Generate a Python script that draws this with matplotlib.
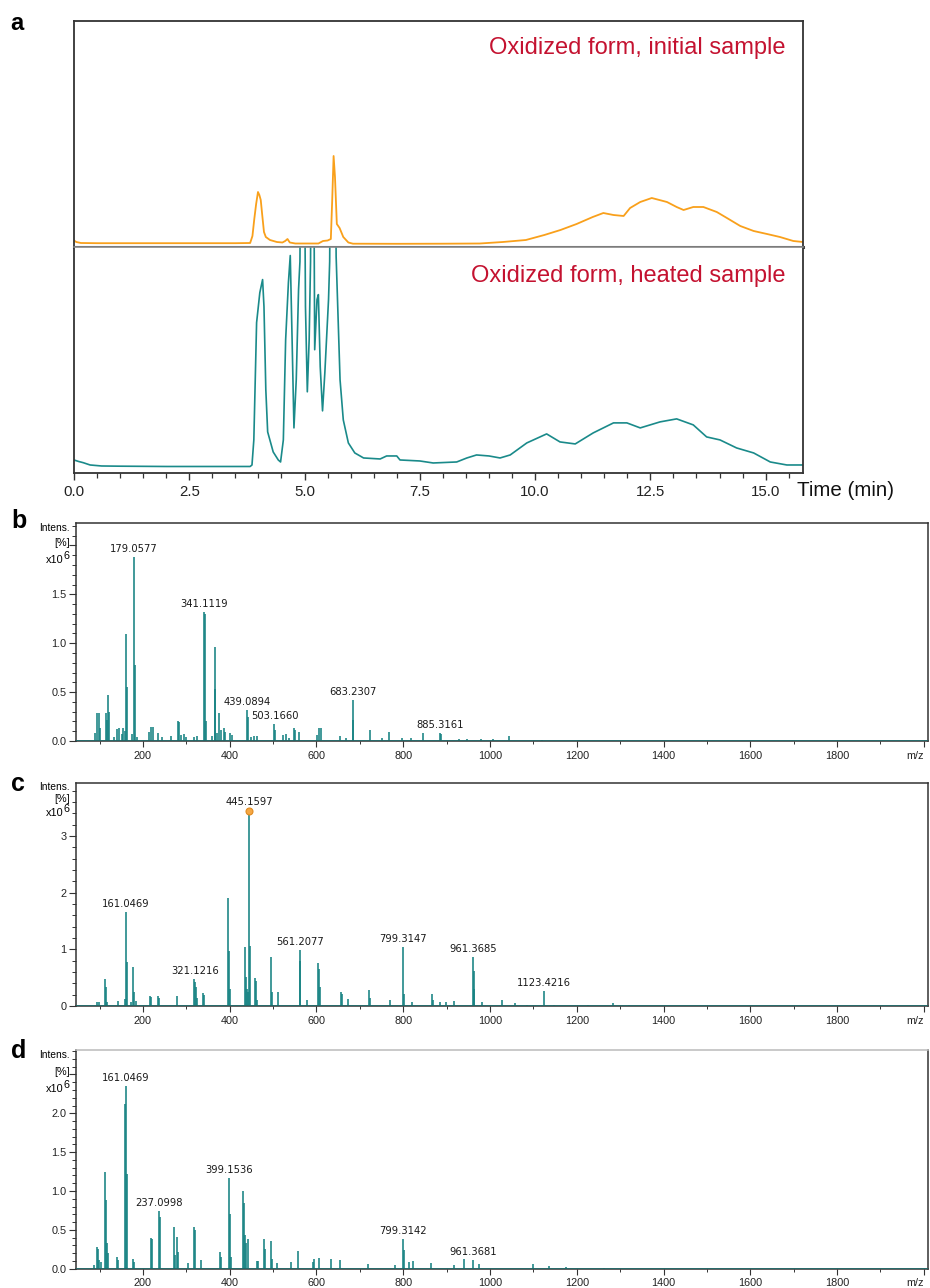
import matplotlib
matplotlib.use('Agg')
import matplotlib.pyplot as plt
from matplotlib.ticker import MultipleLocator, FixedLocator, FixedFormatter
import numpy as np

plt.rcParams['font.family'] = ['Liberation Sans', 'DejaVu Sans']

W, H = 930, 1288

# ---------------- Panel a data (chromatograms) ----------------
time_initial = [0.0, 0.05, 0.15, 0.5, 1.5, 2.5, 3.5, 3.82, 3.87, 3.91, 3.95, 3.99, 4.02, 4.05,
                4.08, 4.12, 4.16, 4.25, 4.4, 4.52, 4.58, 4.63, 4.68, 4.8, 5.3, 5.4, 5.5, 5.57,
                5.6, 5.63, 5.66, 5.7, 5.76, 5.84, 5.95, 6.05, 7.0, 8.0, 8.8, 9.3, 9.8, 10.2,
                10.55, 10.9, 11.25, 11.48, 11.7, 11.92, 12.06, 12.28, 12.53, 12.86, 13.07,
                13.22, 13.43, 13.65, 13.94, 14.16, 14.45, 14.74, 15.03, 15.31, 15.6, 15.81]
intensity_initial = [3.5, 2, 1, 0.8, 0.8, 0.8, 0.8, 1, 8, 25, 40, 52, 49, 44,
                     30, 12, 7, 4, 2, 1.5, 3, 5, 1.5, 0.5, 0.5, 3, 3.5, 5,
                     44, 88, 67, 20, 16, 7, 1.5, 0.3, 0.2, 0.3, 0.5, 2, 4, 9,
                     14, 20, 27, 31, 29, 28, 36, 42, 46, 42, 37,
                     34, 37, 37, 32, 26, 18, 13, 10, 7, 3, 2]

time_heated = [0.0, 0.1, 0.2, 0.35, 0.6, 1.0, 2.0, 3.0, 3.5, 3.82,
               3.86, 3.9, 3.96, 4.03, 4.09, 4.12, 4.16, 4.2, 4.32, 4.43,
               4.48, 4.54, 4.59, 4.65, 4.69, 4.73, 4.77, 4.82, 4.87, 4.90,
               4.96, 5.02, 5.06, 5.10, 5.13, 5.17, 5.22, 5.27, 5.30, 5.34,
               5.39, 5.44, 5.52, 5.545, 5.615, 5.685, 5.77, 5.84, 5.95, 6.09,
               6.28, 6.64, 6.78, 7.0, 7.07, 7.5, 7.79, 8.3, 8.52, 8.73,
               9.0, 9.24, 9.46, 9.82, 10.25, 10.54, 10.87, 11.26, 11.7, 11.99,
               12.28, 12.71, 13.07, 13.43, 13.72, 14.01, 14.37, 14.74, 15.1, 15.46, 15.81]
intensity_heated = [7, 5.5, 4.3, 2, 1, 0.8, 0.5, 0.5, 0.5, 0.5,
                    2, 27, 144, 174, 187, 160, 77, 35, 15, 7,
                    5, 27, 127, 184, 211, 127, 39, 87, 177, 205,
                    600, 160, 75, 127, 205, 600, 117, 167, 172, 100,
                    56, 94, 167, 205, 700, 210, 87, 47, 24, 14,
                    9, 8, 11, 11, 7, 6, 4, 5, 9, 12,
                    11, 9, 12, 24, 33, 25, 23, 34, 44, 44,
                    39, 45, 48, 42, 30, 27, 19, 14, 5, 2, 2]

time_ticks = [0.0, 2.5, 5.0, 7.5, 10.0, 12.5, 15.0]
time_tick_labels = ['0.0', '2.5', '5.0', '7.5', '10.0', '12.5', '15.0']

# ---------------- Panel b data (mass spectrum) ----------------
mz_b = [90, 95, 98, 101, 114, 116, 120, 122, 134, 141, 145, 151, 155, 158, 162, 164, 174, 179.06,
        181, 187, 214, 218, 222, 234, 245, 264, 280, 282, 287, 295, 299, 318, 324, 341.11, 343,
        345, 358, 365, 367, 370, 376, 380, 386, 389, 400, 406, 439.09, 441, 449, 455, 463, 503.17,
        505, 522, 529, 537, 549, 551, 559, 601, 606, 610, 655, 668, 683.23, 685, 723, 750, 768,
        798, 818, 845, 885.32, 887, 929, 948, 979, 1006, 1044, 1121, 1206]
int_b = [0.086, 0.284, 0.284, 0.13, 0.284, 0.21, 0.473, 0.30, 0.045, 0.123, 0.13, 0.07, 0.13, 0.10,
         1.089, 0.55, 0.07, 1.877, 0.78, 0.04, 0.096, 0.14, 0.14, 0.086, 0.04, 0.055, 0.20, 0.19,
         0.06, 0.07, 0.045, 0.045, 0.05, 1.318, 1.30, 0.20, 0.055, 0.962, 0.53, 0.086, 0.284, 0.11,
         0.13, 0.096, 0.08, 0.06, 0.318, 0.243, 0.045, 0.05, 0.05, 0.17, 0.11, 0.06, 0.07, 0.035,
         0.13, 0.11, 0.096, 0.06, 0.13, 0.13, 0.055, 0.035, 0.421, 0.216, 0.11, 0.027, 0.096,
         0.035, 0.03, 0.086, 0.086, 0.07, 0.02, 0.017, 0.017, 0.02, 0.05, 0.01, 0.01]
labels_b = ['179.0577', '341.1119', '439.0894', '503.1660', '683.2307', '885.3161']

# ---------------- Panel c data ----------------
mz_c = [93, 99, 112.5, 115, 118, 142, 158.6, 161.05, 162.5, 172, 178, 180, 183, 216, 218.5, 234,
        236, 279, 317, 319.5, 321.12, 323.5, 337.6, 340, 396, 398.3, 400.6, 434.5, 436.8, 439.1,
        441.4, 445.16, 447, 458.3, 460.6, 463.6, 494.4, 496.7, 512, 561.21, 562.5, 577.4, 604.3,
        606.6, 608.9, 656.5, 659.6, 673.4, 721, 723.4, 769.5, 799.31, 801.8, 819.4, 867, 869.4,
        884.7, 897.8, 917, 961.37, 962.5, 964, 980.8, 1027, 1057.6, 1085, 1123.42, 1147, 1226,
        1282.8, 1320]
int_c = [0.077, 0.077, 0.477, 0.33, 0.065, 0.094, 0.12, 1.656, 0.77, 0.065, 0.684, 0.24, 0.094,
         0.18, 0.165, 0.18, 0.15, 0.18, 0.477, 0.42, 0.33, 0.15, 0.23, 0.2, 1.903, 0.978, 0.3,
         1.05, 0.507, 0.3, 0.24, 3.45, 1.067, 0.495, 0.45, 0.106, 0.872, 0.24, 0.24, 0.99, 0.79,
         0.106, 0.754, 0.654, 0.33, 0.24, 0.22, 0.12, 0.283, 0.135, 0.106, 1.037, 0.21, 0.077,
         0.22, 0.106, 0.077, 0.077, 0.094, 0.86, 0.625, 0.3, 0.077, 0.106, 0.05, 0.02, 0.27,
         0.02, 0.02, 0.05, 0.01]
labels_c = ['161.0469', '321.1216', '445.1597', '561.2077', '799.3147', '961.3685', '1123.4216']
marked_c = 445.1597

# ---------------- Panel d data ----------------
mz_d = [88, 93.3, 95.6, 99.4, 102.5, 111.7, 114, 117.1, 119.4, 139.4, 141.7, 158, 161.05, 163.5,
        176.3, 179.4, 217.7, 220, 237.1, 239.3, 271.6, 273.9, 279.2, 281.5, 304.6, 317.6, 320,
        333.8, 377.6, 379.9, 399.15, 401, 403, 429.9, 432.2, 434.5, 436.8, 442.9, 462.1, 466,
        478.3, 480.6, 494.4, 496.7, 509.8, 540.5, 556.6, 592.7, 595, 605.8, 633.5, 654.2, 719.5,
        781, 799.31, 801, 814, 823.3, 864, 917, 940, 961.37, 975.4, 1100, 1136.8, 1175.2, 1262.8]
int_d = [0.047, 0.275, 0.26, 0.11, 0.09, 1.249, 0.884, 0.326, 0.2, 0.155, 0.11, 2.12, 2.35, 1.22,
         0.12, 0.09, 0.39, 0.378, 0.742, 0.67, 0.54, 0.176, 0.41, 0.22, 0.07, 0.54, 0.5, 0.11,
         0.22, 0.155, 1.17, 0.71, 0.155, 1.0, 0.85, 0.43, 0.33, 0.38, 0.1, 0.1, 0.38, 0.26,
         0.356, 0.13, 0.07, 0.09, 0.227, 0.09, 0.12, 0.14, 0.12, 0.11, 0.056, 0.047, 0.38, 0.24,
         0.09, 0.1, 0.07, 0.047, 0.12, 0.11, 0.056, 0.056, 0.03, 0.02, 0.01]
labels_d = ['161.0469', '237.0998', '399.1536', '799.3142', '961.3681']

mz_ticks = [200, 400, 600, 800, 1000, 1200, 1400, 1600, 1800, 2000]
mz_tick_labels = ['200', '400', '600', '800', '1000', '1200', '1400', '1600', '1800', 'm/z']

# ---------------- styling ----------------
ORANGE = '#F9A01B'
TEAL = '#1A8A8A'
BAR = '#168282'
RED = '#C41230'
SPINE = '#333333'


def fx(px):
    return px / W


def fy(py):
    return 1 - py / H


def add_axes_px(left, top, right, bottom):
    return fig.add_axes([fx(left), fy(bottom), (right - left) / W, (bottom - top) / H])


fig = plt.figure(figsize=(W / 100, H / 100), dpi=100)

# ---------- Panel a ----------
XMAX_T = 15.81
ax1 = add_axes_px(74, 21, 803, 246.5)
ax1.plot(time_initial, intensity_initial, color=ORANGE, lw=1.3)
ax1.set_xlim(0, XMAX_T)
ax1.set_ylim(-2.5, 223)
ax1.set_xticks([])
ax1.set_yticks([])
for s in ['top', 'left', 'right']:
    ax1.spines[s].set_color(SPINE)
    ax1.spines[s].set_linewidth(1.3)
ax1.spines['bottom'].set_color('#444444')
ax1.spines['bottom'].set_linewidth(2.2)
ax1.text(0.976, 0.88, 'Oxidized form, initial sample', transform=ax1.transAxes,
         ha='right', va='center', color=RED, fontsize=17)

ax2 = add_axes_px(74, 246.5, 803, 472.5)
ax2.plot(time_heated, intensity_heated, color=TEAL, lw=1.2)
ax2.set_xlim(0, XMAX_T)
ax2.set_ylim(-5.5, 220)
ax2.set_yticks([])
ax2.xaxis.set_major_locator(FixedLocator(time_ticks))
ax2.xaxis.set_major_formatter(FixedFormatter(time_tick_labels))
ax2.xaxis.set_minor_locator(MultipleLocator(0.5))
ax2.tick_params(axis='x', which='major', direction='out', length=5, width=1.0,
                color=SPINE, labelsize=10.8, pad=4, labelcolor='#222222')
ax2.tick_params(axis='x', which='minor', direction='out', length=3.5, width=0.9, color=SPINE)
for s in ['bottom', 'left', 'right']:
    ax2.spines[s].set_color(SPINE)
    ax2.spines[s].set_linewidth(1.3)
ax2.spines['top'].set_color('#888888')
ax2.spines['top'].set_linewidth(1.2)
ax2.text(0.976, 0.87, 'Oxidized form, heated sample', transform=ax2.transAxes,
         ha='right', va='center', color=RED, fontsize=17)

fig.text(fx(797), fy(490), 'Time (min)', ha='left', va='center', fontsize=14.8, color='#111111')
fig.text(fx(10), fy(30), 'a', ha='left', va='baseline', fontsize=17, fontweight='bold')

# ---------- MS panels ----------
XLIM_MZ = (45.6, 2009.7)


def ms_panel(top, bottom, mz, inten, labels, ymax, major, major_labels, minor_step,
             letter, letter_y, lab_y, top_spine_color=SPINE, marked=None):
    ax = add_axes_px(76, top, 928, bottom)
    ax.vlines(mz, 0, inten, color=BAR, lw=1.15)
    ax.axhline(0, color='#1E6E6E', lw=1.2, zorder=3)
    ax.set_xlim(*XLIM_MZ)
    ax.set_ylim(0, ymax)
    ax.xaxis.set_major_locator(FixedLocator(mz_ticks))
    ax.xaxis.set_major_formatter(FixedFormatter(mz_tick_labels))
    ax.xaxis.set_minor_locator(MultipleLocator(100))
    ax.yaxis.set_major_locator(FixedLocator(major))
    ax.yaxis.set_major_formatter(FixedFormatter(major_labels))
    ax.yaxis.set_minor_locator(MultipleLocator(minor_step))
    ax.tick_params(axis='both', which='major', direction='out', color=SPINE, width=0.8,
                   labelsize=7.8, labelcolor='#222222')
    ax.tick_params(axis='x', which='major', length=4, pad=3)
    ax.tick_params(axis='y', which='major', length=5, pad=2)
    ax.tick_params(axis='x', which='minor', direction='out', length=2.5, width=0.7, color=SPINE)
    ax.tick_params(axis='y', which='minor', direction='out', length=3, width=0.7, color=SPINE)
    for s in ['bottom', 'left', 'right']:
        ax.spines[s].set_color(SPINE)
        ax.spines[s].set_linewidth(1.1)
    ax.spines['top'].set_color(top_spine_color)
    ax.spines['top'].set_linewidth(1.1)
    fig.canvas.draw()
    last = ax.get_xticklabels()[-1]
    last.set_horizontalalignment('right')
    mz_arr = np.array(mz)
    in_arr = np.array(inten)
    for lab in labels:
        v = float(lab)
        sel = np.abs(mz_arr - v) < 5
        yv = in_arr[sel].max()
        ax.annotate(lab, (v, yv), xytext=(0, 2.2), textcoords='offset points',
                    ha='center', va='bottom', fontsize=7.2, family='DejaVu Sans',
                    color='#1a1a1a')
    if marked is not None:
        sel = np.abs(mz_arr - marked) < 1
        ax.plot([marked], [in_arr[sel].max()], 'o', ms=5, mfc='#F5A743', mec='#E08A1E',
                mew=0.8, zorder=5, clip_on=False)
    # axis title texts
    fig.text(fx(70), fy(lab_y[0]), 'Intens.', ha='right', va='center', fontsize=7.3)
    fig.text(fx(70), fy(lab_y[1]), '[%]', ha='right', va='center', fontsize=7.8)
    fig.text(fx(63), fy(lab_y[2]), 'x10', ha='right', va='center', fontsize=7.8)
    fig.text(fx(63), fy(lab_y[2] - 4), '6', ha='left', va='center', fontsize=7.8)
    fig.text(fx(11), fy(letter_y), letter, ha='left', va='baseline', fontsize=18,
             fontweight='bold')
    return ax


ms_panel(523.3, 741, mz_b, int_b, labels_b, 2.226,
         [0, 0.5, 1.0, 1.5, 2.0], ['0.0', '0.5', '1.0', '1.5', ''], 0.1,
         'b', 528, (528, 543, 560))
ms_panel(783.3, 1006, mz_c, int_c, labels_c, 3.93,
         [0, 1, 2, 3], ['0', '1', '2', '3'], 0.2,
         'c', 791, (787, 799.5, 813), marked=marked_c)
ms_panel(1050, 1268.7, mz_d, int_d, labels_d, 2.815,
         [0, 0.5, 1.0, 1.5, 2.0, 2.5], ['0.0', '0.5', '1.0', '1.5', '2.0', ''], 0.1,
         'd', 1058, (1055, 1071.7, 1089), top_spine_color='#BBBBBB')

fig.savefig('out.png', dpi=100, facecolor='white')
